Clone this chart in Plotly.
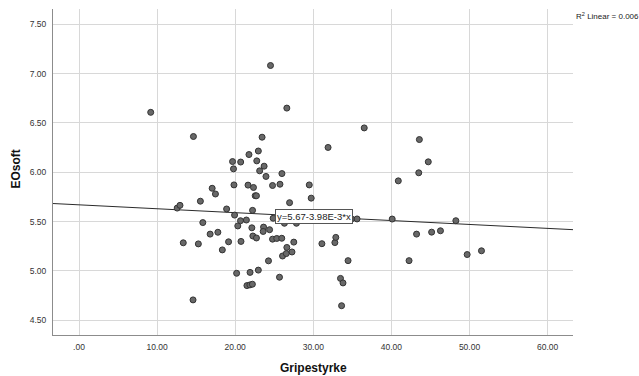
import plotly.graph_objects as go

# Data: Gripestyrke (x) and EOsoft (y)
gripestyrke = [
    9.18, 14.65, 14.60, 12.57, 12.93, 13.35, 15.28, 15.54, 15.85, 17.05,
    17.47, 16.79, 17.78, 18.35, 18.90, 19.15, 19.66, 19.78, 19.84, 19.92,
    20.18, 20.33, 20.68, 20.70, 20.74, 21.43, 21.50, 21.64, 21.76, 21.90,
    21.88, 22.20, 22.13, 22.22, 22.26, 22.34, 22.56, 22.72, 22.72, 22.76,
    22.96, 22.96, 23.13, 23.44, 23.63, 23.70, 23.58, 23.94, 24.26, 24.40,
    24.52, 24.78, 24.78, 24.86, 25.32, 25.67, 25.73, 25.96, 25.98, 26.06,
    26.30, 26.61, 26.61, 26.54, 26.96, 27.27, 27.50, 27.84, 29.48, 29.73,
    31.10, 31.89, 32.76, 32.88, 33.48, 33.80, 33.62, 34.45, 34.90, 35.60,
    36.52, 40.10, 40.88, 42.26, 43.22, 43.50, 43.58, 44.72, 45.15, 46.28,
    48.25, 49.70, 51.53,
]
eosoft = [
    6.608, 6.363, 4.706, 5.637, 5.665, 5.285, 5.274, 5.707, 5.490, 5.838,
    5.780, 5.373, 5.392, 5.213, 5.628, 5.295, 6.109, 6.035, 5.872, 5.566,
    4.976, 5.456, 5.509, 6.104, 5.299, 5.516, 4.851, 5.870, 6.180, 4.985,
    4.858, 4.865, 5.437, 5.614, 5.354, 5.846, 5.762, 5.762, 5.334, 6.116,
    6.216, 5.008, 6.015, 6.356, 5.444, 6.062, 5.400, 5.958, 5.102, 5.418,
    7.083, 5.866, 5.322, 5.534, 5.329, 4.936, 5.879, 5.331, 5.987, 5.151,
    5.483, 6.651, 5.238, 5.176, 5.692, 5.192, 5.292, 5.483, 5.872, 5.738,
    5.276, 6.252, 5.287, 5.340, 4.924, 4.878, 4.647, 5.104, 5.527, 5.527,
    6.450, 5.526, 5.913, 5.104, 5.373, 5.995, 6.332, 6.106, 5.393, 5.407,
    5.509, 5.166, 5.204,
]

# Linear fit reported in the chart
intercept = 5.67
slope = -3.98e-3
r_squared = 0.006

x_tickvals = [0, 10, 20, 30, 40, 50, 60]
x_ticktext = [".00", "10.00", "20.00", "30.00", "40.00", "50.00", "60.00"]
y_tickvals = [4.5, 5.0, 5.5, 6.0, 6.5, 7.0, 7.5]
y_ticktext = ["4.50", "5.00", "5.50", "6.00", "6.50", "7.00", "7.50"]

x_range = [-3.33, 63.25]
y_range = [4.35, 7.656]

fit_x = list(x_range)
fit_y = [intercept + slope * v for v in fit_x]

FONT = "Liberation Sans, Arial, sans-serif"

fig = go.Figure()
fig.add_trace(go.Scatter(
    x=fit_x, y=fit_y, mode="lines",
    line=dict(color="#2b2b2b", width=1),
    hoverinfo="skip", showlegend=False,
))
fig.add_trace(go.Scatter(
    x=gripestyrke, y=eosoft, mode="markers",
    marker=dict(size=6, color="#686868", line=dict(color="#333333", width=1)),
    showlegend=False,
))

fig.update_layout(
    width=639, height=376,
    margin=dict(l=53, r=66, t=9, b=41),
    paper_bgcolor="white", plot_bgcolor="white",
    font=dict(family=FONT, color="#333333"),
    showlegend=False,
)
fig.update_xaxes(
    range=x_range, tickvals=x_tickvals, ticktext=x_ticktext,
    showgrid=True, gridcolor="#d8d8d8", gridwidth=1,
    showline=True, linecolor="#8c8c8c", linewidth=1,
    zeroline=False, ticks="", tickfont=dict(size=8.5, color="#333333"),
    ticklabelstandoff=4,
)
fig.update_yaxes(
    range=y_range, tickvals=y_tickvals, ticktext=y_ticktext,
    showgrid=True, gridcolor="#d8d8d8", gridwidth=1,
    showline=True, linecolor="#8c8c8c", linewidth=1,
    zeroline=False, ticks="", tickfont=dict(size=8.5, color="#333333"),
    ticklabelstandoff=4,
)

eq_text = "y=%.2f%s*x" % (intercept, ("%.2fE-3" % (slope * 1000)))
fig.add_annotation(
    x=30.03, y=5.555, xref="x", yref="y", text=eq_text, showarrow=False,
    font=dict(family=FONT, size=9.5, color="#222222"),
    bgcolor="white", bordercolor="#555555", borderwidth=1, borderpad=1,
)
fig.add_annotation(
    x=1.001, y=0.98, xref="paper", yref="paper", xanchor="left", yanchor="middle",
    text="R<sup>2</sup> Linear = %.3f" % r_squared, showarrow=False,
    font=dict(family=FONT, size=8, color="#222222"),
)
fig.add_annotation(
    x=0.5, y=-0.101, xref="paper", yref="paper", xanchor="center", yanchor="middle",
    text="<b>Gripestyrke</b>", showarrow=False,
    font=dict(family=FONT, size=12, color="#111111"),
)
fig.add_annotation(
    x=-0.0715, y=0.51, xref="paper", yref="paper", xanchor="center", yanchor="middle",
    text="<b>EOsoft</b>", showarrow=False, textangle=-90,
    font=dict(family=FONT, size=12, color="#111111"),
)

fig.write_html("out.html")
